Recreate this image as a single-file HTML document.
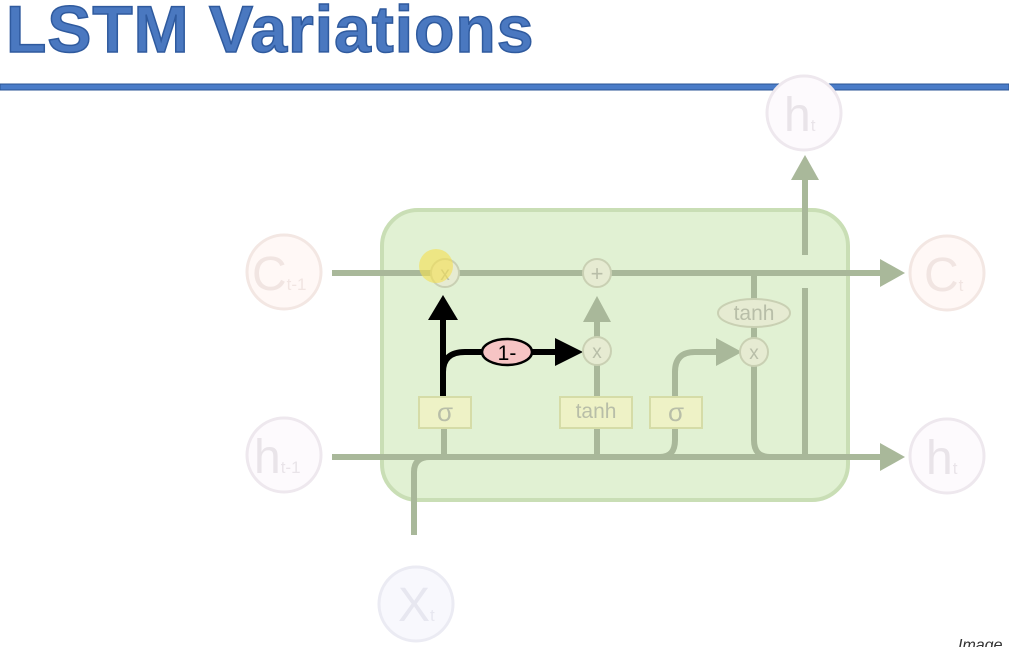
<!DOCTYPE html>
<html><head><meta charset="utf-8"><style>
html,body{margin:0;padding:0;background:#fff;width:1009px;height:647px;overflow:hidden}
.t{position:absolute;left:6px;top:-9px;font-family:"Liberation Sans",sans-serif;font-weight:bold;font-size:66px;color:#4a78c0;letter-spacing:1px;-webkit-text-stroke:1.5px #2f5a9e}
</style></head><body>
<div class="t">LSTM Variations</div>
<svg width="1009" height="647" style="position:absolute;left:0;top:0" font-family="Liberation Sans,DejaVu Sans,sans-serif">
<rect x="0" y="84" width="1009" height="6" fill="#4a7cc8" stroke="#2b5594" stroke-width="1"/>
<rect x="382" y="210" width="466" height="290" rx="36" fill="#e1f1d3" stroke="#c9deb5" stroke-width="4"/>
<g stroke="#a9b89a" stroke-width="6" fill="none">
<line x1="332" y1="273" x2="882" y2="273"/>
<line x1="332" y1="457" x2="882" y2="457"/>
<path d="M414 535 V472 Q414 457 430 457"/>
<line x1="444" y1="457" x2="444" y2="428"/>
<line x1="597" y1="457" x2="597" y2="428"/>
<line x1="597" y1="397" x2="597" y2="365"/>
<line x1="597" y1="337" x2="597" y2="320"/>
<path d="M660 457 Q675 457 675 440 V428"/>
<path d="M675 397 V372 Q675 352 695 352 H720"/>
<line x1="754" y1="273" x2="754" y2="300"/>
<line x1="754" y1="327" x2="754" y2="338"/>
<path d="M754 366 V440 Q754 457 770 457"/>
<line x1="805" y1="255" x2="805" y2="178"/>
<line x1="805" y1="288" x2="805" y2="457"/>
</g>
<g fill="#a9b89a">
<polygon points="880,259 905,273 880,287"/>
<polygon points="880,443 905,457 880,471"/>
<polygon points="791,180 805,155 819,180"/>
<polygon points="583,322 597,296 611,322"/>
<polygon points="716,338 742,352 716,366"/>
</g>
<g stroke="#000" stroke-width="6" fill="none">
<line x1="443" y1="397" x2="443" y2="318"/>
<path d="M443 372 Q443 352 465 352 H560"/>
</g>
<polygon points="428,320 443,295 458,320" fill="#000"/>
<polygon points="555,338 583,352 555,366" fill="#000"/>
<ellipse cx="507" cy="352" rx="25" ry="13" fill="#f6c4c4" stroke="#000" stroke-width="2.5"/>
<text x="507" y="360" font-size="21" text-anchor="middle" fill="#000">1-</text>
<g fill="#e6ebd2" stroke="#c9d0b3" stroke-width="2">
<circle cx="445" cy="273" r="14"/><circle cx="597" cy="273" r="14"/><circle cx="597" cy="351" r="14"/><circle cx="754" cy="352" r="14"/>
<ellipse cx="754" cy="313" rx="36" ry="14"/>
</g>
<g fill="#eef2c6" stroke="#d5dca7" stroke-width="2">
<rect x="419" y="397" width="52" height="31"/><rect x="560" y="397" width="72" height="31"/><rect x="650" y="397" width="52" height="31"/>
</g>
<g fill="#b8bea8" font-size="21" text-anchor="middle">
<text x="445" y="421" font-size="26">σ</text><text x="596" y="418">tanh</text><text x="676" y="421" font-size="26">σ</text>
<text x="754" y="320">tanh</text>
<text x="597" y="281" font-size="22">+</text><text x="597" y="358" font-size="19">x</text><text x="754" y="359" font-size="19">x</text><text x="445" y="280" font-size="19">x</text>
</g>
<circle cx="436" cy="266" r="17" fill="#f5e050" opacity="0.6"/>
<g stroke="#eee8ee" stroke-width="3" fill="#fdfafd">
<circle cx="284" cy="272" r="37" fill="#fff8f6" stroke="#f3e7e3"/><circle cx="284" cy="455" r="37"/><circle cx="416" cy="604" r="37" fill="#f8f8fd" stroke="#ebebf3"/>
<circle cx="804" cy="113" r="37"/><circle cx="947" cy="273" r="37" fill="#fff8f6" stroke="#f3e7e3"/><circle cx="947" cy="456" r="37"/>
</g>
<g fill="#e9e4e9" font-size="48">
<text x="252" y="290" fill="#f1e5e2">C<tspan font-size="17">t-1</tspan></text>
<text x="254" y="473">h<tspan font-size="17">t-1</tspan></text>
<text x="398" y="621" fill="#e7e7f0">X<tspan font-size="17">t</tspan></text>
<text x="784" y="131">h<tspan font-size="17">t</tspan></text>
<text x="924" y="291" fill="#f1e5e2">C<tspan font-size="17">t</tspan></text>
<text x="926" y="474">h<tspan font-size="17">t</tspan></text>
</g>
<text x="958" y="650" font-size="16" font-style="italic" fill="#333">Image</text>
</svg>
</body></html>
